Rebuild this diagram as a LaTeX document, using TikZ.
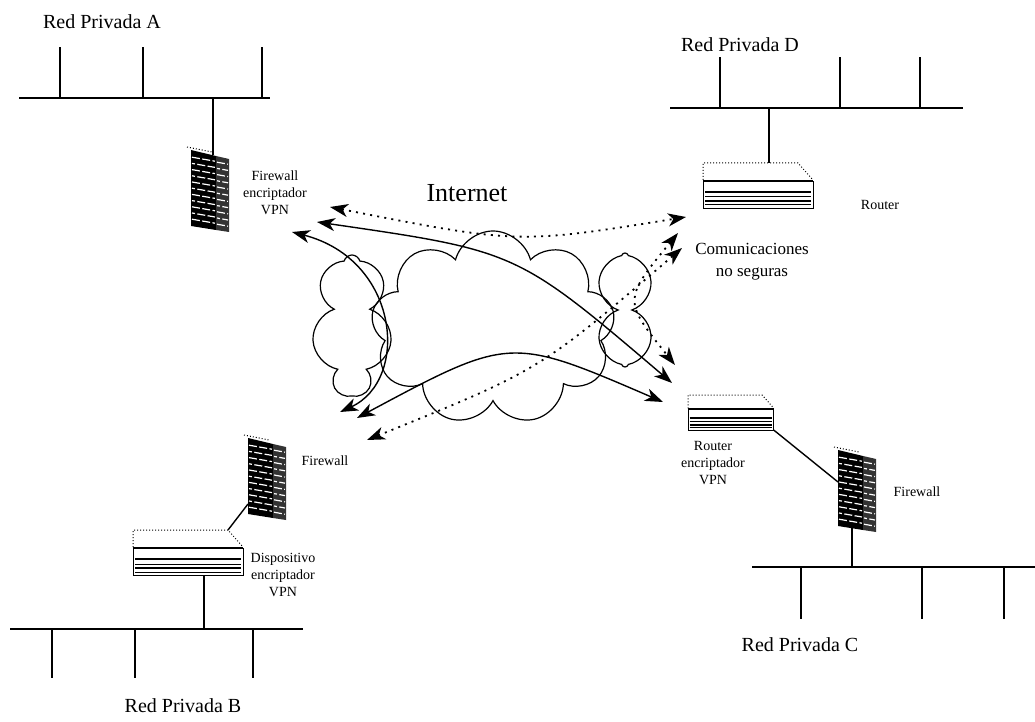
\documentclass[tikz,border=0pt]{standalone}
\usepackage{fontspec}
\setmainfont{Liberation Serif}
\usetikzlibrary{arrows.meta,shapes.symbols}

\tikzset{
  bus/.style={line width=0.9pt},
  link/.style={line width=0.7pt},
  netlabel/.style={font=\fontsize{10}{12}\selectfont},
  devlabel/.style={font=\fontsize{7}{8.6}\selectfont, align=center},
  tip/.style={{Stealth[length=9pt,width=6.5pt,inset=2.6pt]}-{Stealth[length=9pt,width=6.5pt,inset=2.6pt]}},
  secure/.style={tip, line width=0.7pt},
  unsafe/.style={tip, line width=0.9pt, dash pattern=on 1pt off 2.6pt},
  puff/.style={cloud, draw, cloud puffs=#1, cloud ignores aspect, line width=0.6pt},
  % brick wall
  pics/firewall/.style={code={
    \draw[densely dotted, line width=0.5pt] (-4,-3) -- (21,2);
    \fill (0,0) -- (25,6) -- (25,80) -- (0,76) -- cycle;
    \fill[black!80] (25,6) -- (38,9) -- (38,82) -- (25,80) -- cycle;
    \foreach \k in {1,3,...,11}
      \draw[white, line width=0.6pt, dash pattern=on 4pt off 1.2pt]
        (1,6.2*\k+1) -- (24,6.2*\k+5) (26,6.2*\k+6) -- (37,6.2*\k+8);
    \foreach \k in {2,4,...,10}
      \draw[white, line width=0.6pt, dash pattern=on 4pt off 1.2pt, dash phase=2.5pt]
        (1,6.2*\k+1) -- (24,6.2*\k+5) (26,6.2*\k+6) -- (37,6.2*\k+8);
    \coordinate (-top) at (22,5);
    \coordinate (-left) at (0,32);
    \coordinate (-lowleft) at (0,66);
    \coordinate (-bot) at (14,78);
  }},
  % flat box with front panel
  pics/router/.style={code={
    \draw[densely dotted, line width=0.5pt] (0,17) -- (0,0) -- (95,0) -- (110,17);
    \draw[line width=1pt] (0,18) -- (110,18);
    \draw[line width=0.4pt] (0,18) -- (0,45) -- (110,45) -- (110,18);
    \draw[line width=1.1pt] (2,29) -- (108,29);
    \draw[line width=0.5pt] (2,34) -- (108,34);
    \draw[line width=1.1pt] (2,38) -- (108,38);
    \draw[line width=0.5pt] (2,42) -- (108,42);
    \coordinate (-top) at (66,0);
    \coordinate (-bot) at (71,45);
    \coordinate (-ne) at (95,0);
    \coordinate (-se) at (110,45);
  }}
}

\begin{document}
\begin{tikzpicture}[x=0.5pt,y=-0.5pt]

\useasboundingbox (0,0) rectangle (1035,722);

% Internet
\node[puff=9, minimum width=122pt, minimum height=97pt] (cloud) at (493,328) {};
\node[puff=7, minimum width=40pt, minimum height=70pt] (cloudL) at (352,325) {};
\node[puff=6, minimum width=30pt, minimum height=57pt] (cloudR) at (625,310) {};
\node[font=\fontsize{13}{15}\selectfont] (inet) at (467,193) {Internet};
\node[font=\fontsize{8.5}{11}\selectfont, align=center] (nosec) at (752,262)
{Comunicaciones\\no seguras};

% Red Privada A
\draw[bus] (19,98) -- (270,98);
\foreach \x in {60,143,262}
{
\draw[bus] (\x,98) -- (\x,47);
}
\coordinate (tapA) at (213,98);
\node[netlabel] (labA) at (102,22) {Red Privada A};
\pic (fwA) at (191,150) {firewall};
\node[devlabel] (txA) at (275,193) {Firewall\\encriptador\\VPN};
\draw[bus] (tapA) -- (fwA-top);

% Red Privada D
\draw[bus] (670,108) -- (963,108);
\foreach \x in {720,840,920}
{
\draw[bus] (\x,108) -- (\x,57);
}
\coordinate (tapD) at (769,108);
\node[netlabel] (labD) at (740,45) {Red Privada D};
\pic (rD) at (703,163) {router};
\node[devlabel] (txD) at (880,205) {Router};
\draw[bus] (tapD) -- (rD-top);

% Red Privada B
\draw[bus] (10,629) -- (303,629);
\foreach \x in {52,135,253}
{
\draw[bus] (\x,629) -- (\x,678);
}
\coordinate (tapB) at (204,629);
\node[netlabel] (labB) at (183,706) {Red Privada B};
\pic (fwB) at (248,438) {firewall};
\node[devlabel] (txB) at (325,461) {Firewall};
\pic (dvB) at (133,530) {router};
\node[devlabel] (txdB) at (283,575) {Dispositivo\\encriptador\\VPN};
\draw[link] (fwB-lowleft) -- (dvB-ne);
\draw[bus] (dvB-bot) -- (tapB);

% Red Privada C
\draw[bus] (752,567) -- (1035,567);
\foreach \x in {801,922,1004}
{
\draw[bus] (\x,567) -- (\x,619);
}
\coordinate (tapC) at (852,567);
\node[netlabel] (labC) at (800,645) {Red Privada C};
\pic[scale=0.78] (rC) at (688,395) {router};
\node[devlabel] (txC) at (713,463) {Router\\encriptador\\VPN};
\pic (fwC) at (838,450) {firewall};
\node[devlabel] (txfC) at (917,492) {Firewall};
\draw[link] (rC-se) -- (fwC-left);
\draw[bus] (fwC-bot) -- (tapC);

% tuneles y enlaces
\foreach \n/\x/\y in {
a1/330/207,d1/686/217,
a2/317/222,c2/672/383,
a3/292/232,b3/340/412,
b4/357/418,c4/663/402,
b5/367/440,d5/682/248,
d6/678/233,c6/675/365
}
{
\coordinate (\n) at (\x,\y);
}
\draw[unsafe] (a1) .. controls (518,244) .. (d1);
\draw[secure] (a2) .. controls (517,251) .. (c2);
\draw[secure] (a3) .. controls (400,260) and (410,380) .. (b3);
\draw[secure] (b4) .. controls (510,336) .. (c4);
\draw[unsafe] (b5) .. controls (540,370) .. (d5);
\draw[unsafe] (d6) .. controls (623,300) .. (c6);

\end{tikzpicture}
\end{document}
